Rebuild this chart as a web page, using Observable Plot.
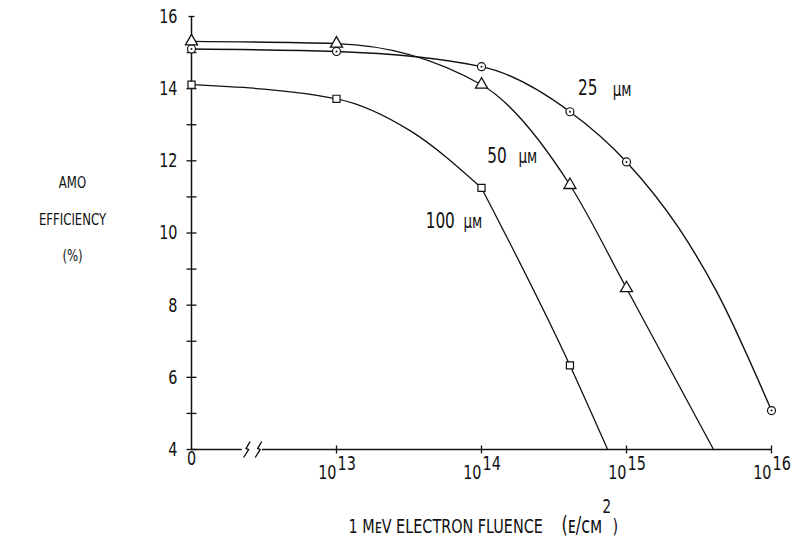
<!DOCTYPE html>
<html>
<head>
<meta charset="utf-8">
<script src="https://cdn.jsdelivr.net/npm/d3@7"></script>
<script src="https://cdn.jsdelivr.net/npm/@observablehq/plot@0.6"></script>
<style>
  html, body { margin: 0; padding: 0; background: #fff; }
  svg { display: block; }
</style>
</head>
<body>
<div id="chart"></div>
<script>
// x values are decade exponents of the 1 MeV electron fluence (e/cm^2);
// the broken axis puts fluence "0" one decade left of 10^13 (exponent 12).
const xTickExponents = [12, 13, 14, 15, 16];
const xTickLabels = ["0", "13", "14", "15", "16"];
const yTicks = [4, 5, 6, 7, 8, 9, 10, 11, 12, 13, 14, 15, 16];
const yTickLabels = [4, 6, 8, 10, 12, 14, 16];

// measured points (markers)
const fluence25 = [12, 13, 14, 14.61, 15, 16];
const eff25     = [15.10, 15.03, 14.61, 13.36, 11.97, 5.08];
const fluence50 = [12, 13, 14, 14.61, 15];
const eff50     = [15.31, 15.25, 14.11, 11.33, 8.47];
const fluence100 = [12, 13, 14, 14.61];
const eff100     = [14.11, 13.72, 11.25, 6.33];

// hand-drawn fitted curves
const curve25x  = [12, 13, 14, 14.61, 15, 15.36, 15.62, 16];
const curve25y  = [15.10, 15.03, 14.61, 13.36, 11.97, 10.14, 8.39, 5.08];
const curve50x  = [12, 13, 14, 14.61, 15, 15.60];
const curve50y  = [15.31, 15.25, 14.11, 11.33, 8.47, 4.0];
// the 100 µm curve bends at 10^14 and runs straight afterwards
const curve100ax = [12, 13, 13.51, 14];
const curve100ay = [14.11, 13.72, 12.83, 11.25];
const curve100bx = [14, 14.61, 14.87];
const curve100by = [11.25, 6.33, 4.0];

// curve labels (cell thickness)
const labelNumbers = ["25", "50", "100"];
const labelX = [14.665, 14.04, 13.615];
const labelY = [14.0, 12.14, 10.33];
const labelUnitX = [14.905, 14.255, 13.875];

// axis break position (exponent units)
const axisSegments = [[12, 12.35], [12.49, 16]];
const breakAt = [12.38, 12.46];

const FONT = '"DejaVu Sans Condensed", "Liberation Sans Narrow", "DejaVu Sans", sans-serif';
const INK = "#111";

const zip = (xs, ys) => xs.map((x, i) => ({x, y: ys[i]}));
const pts25 = zip(fluence25, eff25), pts50 = zip(fluence50, eff50), pts100 = zip(fluence100, eff100);
const line25 = zip(curve25x, curve25y), line50 = zip(curve50x, curve50y);
const line100a = zip(curve100ax, curve100ay), line100b = zip(curve100bx, curve100by);
const labels = labelNumbers.map((t, i) => ({t, x: labelX[i], y: labelY[i], ux: labelUnitX[i]}));

const hTick = {draw(c) { c.moveTo(-5, 0); c.lineTo(5, 0); }};
const vTick = {draw(c) { c.moveTo(0, -4); c.lineTo(0, 4); }};
const breakMark = {draw(c) { c.moveTo(3.5, -8); c.lineTo(-0.5, -1); c.lineTo(2, 0); c.lineTo(-3, 8); }};
const topTick = {draw(c) { c.moveTo(-3, 0); c.lineTo(3, 0); }};

const chart = Plot.plot({
  width: 801,
  height: 552,
  marginLeft: 191,
  marginRight: 30,
  marginTop: 16,
  marginBottom: 103,
  x: {domain: [12, 16], axis: null},
  y: {domain: [4, 16], axis: null},
  style: {fontFamily: FONT, background: "#fff", overflow: "visible", color: INK},
  marks: [
    // axes
    Plot.ruleX([12], {y1: () => 4, y2: () => 16, stroke: INK, strokeWidth: 1.5}),
    Plot.ruleY(axisSegments, {y: () => 4, x1: d => d[0], x2: d => d[1], stroke: INK, strokeWidth: 1.5}),
    Plot.dot(yTicks.slice(0, -1), {x: () => 12, y: d => d, symbol: hTick, stroke: INK, strokeWidth: 1.3}),
    Plot.dot([16], {x: () => 12, y: d => d, symbol: topTick, stroke: INK, strokeWidth: 1.3}),
    Plot.dot(xTickExponents.slice(1), {x: d => d, y: () => 4, symbol: vTick, stroke: INK, strokeWidth: 1.3}),
    Plot.dot(breakAt, {x: d => d, y: () => 4, symbol: breakMark, stroke: INK, strokeWidth: 1.4, fill: "none"}),
    // tick labels
    Plot.text(yTickLabels, {y: d => d, frameAnchor: "left", dx: -14, text: d => String(d), textAnchor: "end", fontSize: 16, fill: INK}),
    Plot.text([xTickLabels[0]], {x: () => xTickExponents[0], frameAnchor: "bottom", dy: 15, text: d => d, fontSize: 16, fill: INK}),
    Plot.text(xTickExponents.slice(1), {x: d => d, frameAnchor: "bottom", dy: 29, dx: 0, text: () => "10", textAnchor: "end", fontSize: 16, fill: INK}),
    Plot.text(xTickExponents.slice(1), {x: d => d, frameAnchor: "bottom", dy: 20, dx: 1, text: (d, i) => xTickLabels[i + 1], textAnchor: "start", fontSize: 16, fill: INK}),
    // axis titles
    Plot.text(["AMO\nEFFICIENCY\n(%)"], {frameAnchor: "left", dx: -119, dy: -20, text: d => d, lineHeight: 2.25, textAnchor: "middle", fontSize: 13, fill: INK}),
    Plot.text(["1 M\u1d07V ELECTRON FLUENCE"], {frameAnchor: "bottom-left", dx: 157, dy: 83, text: d => d, textAnchor: "start", fontSize: 16, fill: INK}),
    Plot.text(["(\u1d07/\u1d04\u1d0d"], {frameAnchor: "bottom-left", dx: 370, dy: 83, text: d => d, textAnchor: "start", fontSize: 18, fill: INK}),
    Plot.text(["2"], {frameAnchor: "bottom-left", dx: 411, dy: 63, text: d => d, textAnchor: "start", fontSize: 15, fill: INK}),
    Plot.text([")"], {frameAnchor: "bottom-left", dx: 421, dy: 83, text: d => d, textAnchor: "start", fontSize: 16, fill: INK}),
    // curves
    Plot.line(line25, {x: "x", y: "y", curve: "monotone-x", stroke: INK, strokeWidth: 1.4}),
    Plot.line(line50, {x: "x", y: "y", curve: "monotone-x", stroke: INK, strokeWidth: 1.3}),
    Plot.line(line100a, {x: "x", y: "y", curve: "monotone-x", stroke: INK, strokeWidth: 1.3}),
    Plot.line(line100b, {x: "x", y: "y", curve: "monotone-x", stroke: INK, strokeWidth: 1.3}),
    // markers
    Plot.dot(pts25, {x: "x", y: "y", symbol: "circle", r: 4, stroke: INK, fill: "#fff", strokeWidth: 1.2}),
    Plot.dot(pts25, {x: "x", y: "y", r: 1, fill: INK}),
    Plot.dot(pts50, {x: "x", y: "y", symbol: "triangle", r: 4.5, stroke: INK, fill: "#fff", strokeWidth: 1.3}),
    Plot.dot(pts100, {x: "x", y: "y", symbol: "square", r: 4, stroke: INK, fill: "#fff", strokeWidth: 1.2}),
    // curve labels
    Plot.text(labels, {x: "x", y: "y", text: "t", textAnchor: "start", fontSize: 17, fill: INK}),
    Plot.text(labels, {x: "ux", y: "y", dy: 1, text: () => "\u00b5\u1d0d", textAnchor: "start", fontSize: 15, fill: INK})
  ]
});

// the typewritten lettering of the original is tall and narrow: stretch glyphs vertically
d3.select(chart).selectAll("text").each(function () {
  const t = this.getAttribute("transform") || "";
  this.setAttribute("transform", (t + " scale(1,1.25)").trim());
});

document.getElementById("chart").appendChild(chart);
</script>
</body>
</html>
